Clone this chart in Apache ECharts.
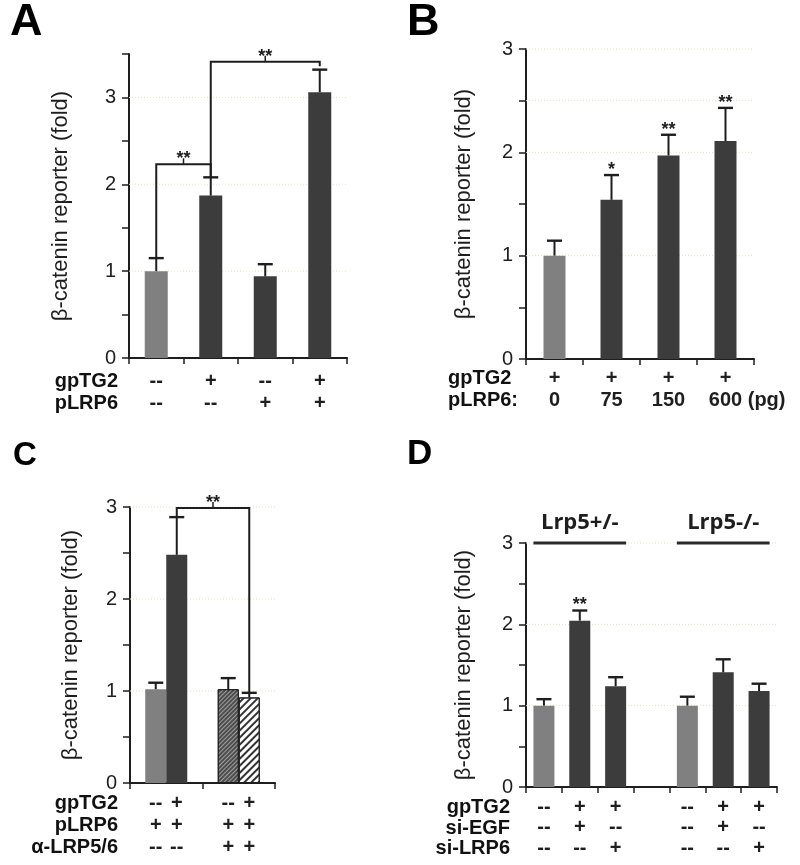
<!DOCTYPE html>
<html><head><meta charset="utf-8">
<script src="https://cdn.jsdelivr.net/npm/echarts@6/dist/echarts.min.js"></script>
<style>html,body{margin:0;padding:0;background:#fff}#c{width:800px;height:865px}</style>
</head><body><div id="c"></div>
<script>
// ---------- data ----------
// Panel A
const catsA = ['a1','a2','a3','a4'];
const meanA = [1.00, 1.87, 0.94, 3.06];
const errA  = [1.15, 2.08, 1.08, 3.32];
const shadeA = ['light','dark','dark','dark'];
const gpTG2_A = ['--','+','--','+'];
const pLRP6_A = ['--','--','+','+'];
const gridValsA = [1, 2, 3];
// brackets: [catL, slotL, bottomL, catR, slotR, bottomR, top, label]
const bracketsA = [[0,0,1.15, 1,0,2.08, 2.23,'**'], [1,0,2.08, 3,0,3.36, 3.41,'**']];

// Panel B
const catsB = ['b1','b2','b3','b4'];
const meanB = [1.00, 1.54, 1.97, 2.11];
const errB  = [1.145, 1.78, 2.17, 2.43];
const shadeB = ['light','dark','dark','dark'];
const starsB = ['', '*', '**', '**'];
const gpTG2_B = ['+','+','+','+'];
const pLRP6_B = ['0','75','150','600'];
const unitB = ' (pg)';
const gridValsB = [1, 2, 2.5, 3];

// Panel C (two bars per group)
const catsC = ['c1','c2'];
const meanC1 = [1.02, 1.02];
const errC1  = [1.09, 1.14];
const meanC2 = [2.48, 0.93];
const errC2  = [2.89, 0.98];
const gpTG2_C = [['--','+'],['--','+']];
const pLRP6_C = [['+','+'],['+','+']];
const aLRP_C  = [['--','--'],['+','+']];
const gridValsC = [1, 2, 3];
const bracketsC = [[0,1,2.89, 1,1,0.98, 2.99,'**']];

// Panel D
const catsD = ['d1','d2','d3','gap','d5','d6','d7'];
const meanD = [1.00, 2.045, 1.24, null, 1.00, 1.41, 1.18];
const errD  = [1.08, 2.17, 1.35, null, 1.11, 1.57, 1.27];
const shadeD = ['light','dark','dark',null,'light','dark','dark'];
const starsD = ['', '**', '', '', '', '', ''];
const gpTG2_D = ['--','+','+','','--','+','+'];
const siEGF_D = ['--','+','--','','--','+','--'];
const siLRP6_D = ['--','--','+','','--','--','+'];
const gridValsD = [1, 2, 3];
// groups: [catFrom, catTo, level, label]
const groupsD = [[0, 2, 3, 'Lrp5+/-'], [4, 6, 3, 'Lrp5-/-']];

// ---------- styles ----------
const LIGHT = '#808080', DARK = '#3c3c3c', INK = '#1e1e1e';
const FONT = '"Liberation Sans", Arial, Helvetica, sans-serif';
const colorOf = s => s === 'light' ? LIGHT : DARK;
const YNAME = 'β-catenin reporter (fold)';

const grids = [
  {left:129, top:54, width:218, height:304},
  {left:526, top:49, width:228, height:310},
  {left:130, top:507, width:145, height:276},
  {left:526, top:543, width:251, height:244}
];
const barW = [23, 22, 21, 21];

function yAxisCfg(gi, max, gap){
  return {gridIndex:gi, type:'value', min:0, max:max, interval:0.5,
    name:YNAME, nameLocation:'middle', nameGap:gap,
    nameTextStyle:{fontSize:22, color:INK, fontFamily:FONT},
    axisLine:{show:true, lineStyle:{color:INK, width:2}},
    axisTick:{show:true, length:7, lineStyle:{color:INK, width:1.5}},
    axisLabel:{fontSize:20, color:INK, fontFamily:FONT, margin:13,
      formatter: v => Number.isInteger(v) ? String(v) : ''},
    splitLine:{show:false}};
}
function xAxisCfg(gi, cats, fmt, lh, margin, rich){
  return {gridIndex:gi, type:'category', data:cats,
    axisLine:{show:true, lineStyle:{color:INK, width:2}},
    axisTick:{show:true, length:6, lineStyle:{color:INK, width:1.5}},
    axisLabel:{interval:0, formatter:fmt, fontSize:20, fontWeight:'bold', color:INK,
      fontFamily:FONT, lineHeight:lh, margin:margin, rich:rich || {}}};
}

// ---------- renderers ----------
function gridLineRender(params, api){
  const cs = params.coordSys;
  const y = api.coord([0, api.value(1)])[1];
  return {type:'line', shape:{x1:cs.x, y1:y, x2:cs.x+cs.width, y2:y},
    style:{stroke:'#e4e2c0', lineWidth:1, lineDash:[1,2]}};
}
function errRender(half){
  return function(params, api){
    const cat = api.value(0), m = api.value(1), e = api.value(2), slot = api.value(3);
    const p0 = api.coord([cat, m]), p1 = api.coord([cat, e]);
    const x = p0[0] + slot*half;
    return {type:'group', children:[
      {type:'line', shape:{x1:x, y1:p0[1], x2:x, y2:p1[1]}, style:{stroke:INK, lineWidth:2}},
      {type:'line', shape:{x1:x-7.5, y1:p1[1], x2:x+7.5, y2:p1[1]}, style:{stroke:INK, lineWidth:2.4}}
    ]};
  };
}
function bracketRender(list, half){
  return function(params, api){
    const b = list[params.dataIndex];
    const L = api.coord([b[0], b[2]]), Lt = api.coord([b[0], b[6]]);
    const R = api.coord([b[3], b[5]]), Rt = api.coord([b[3], b[6]]);
    const xL = L[0] + b[1]*half, xR = R[0] + b[4]*half, yT = Lt[1];
    const mid = (xL + xR)/2;
    return {type:'group', children:[
      {type:'polyline', shape:{points:[[xL,L[1]],[xL,yT],[xR,yT],[xR,R[1]]]},
        style:{stroke:INK, lineWidth:2, fill:null}},
      {type:'line', shape:{x1:mid, y1:yT, x2:mid, y2:yT-6}, style:{stroke:INK, lineWidth:1.5}},
      {type:'text', x:mid, y:yT+4, style:{text:b[7], fontSize:18, fontWeight:'bold',
        fontFamily:FONT, fill:INK, align:'center', verticalAlign:'bottom'}}
    ]};
  };
}
function starRender(labels){
  return function(params, api){
    const p = api.coord([api.value(0), api.value(1)]);
    return {type:'text', x:p[0], y:p[1]+4, style:{text:labels[params.dataIndex], fontSize:18,
      fontWeight:'bold', fontFamily:FONT, fill:INK, align:'center', verticalAlign:'bottom'}};
  };
}
function groupRender(list, half){
  return function(params, api){
    const g = list[params.dataIndex];
    const a = api.coord([g[0], g[2]]), b = api.coord([g[1], g[2]]);
    const x1 = a[0]-half, x2 = b[0]+half;
    return {type:'group', children:[
      {type:'line', shape:{x1:x1, y1:a[1], x2:x2, y2:a[1]}, style:{stroke:'#2a2a2a', lineWidth:3}},
      {type:'text', x:(x1+x2)/2, y:a[1]-20, style:{text:g[3], fontSize:22, fontWeight:'bold',
        fontFamily:'"Open Sans", "Noto Sans", sans-serif', fill:INK, align:'center', verticalAlign:'middle'}}
    ]};
  };
}

// ---------- series ----------
const series = [];
function addGridLines(idx, vals){
  series.push({type:'custom', xAxisIndex:idx, yAxisIndex:idx, z:1, silent:true,
    renderItem:gridLineRender, encode:{x:0, y:1}, data:vals.map(v => [0, v])});
}
function addBars(idx, means, shades){
  series.push({type:'bar', xAxisIndex:idx, yAxisIndex:idx, z:2, barWidth:barW[idx], silent:true,
    data: means.map((v,i) => v == null ? null : ({value:v, itemStyle:{color:colorOf(shades[i])}}))});
}
function addErr(idx, means, errs, slot, half){
  const d = [];
  means.forEach((m,i) => { if (m != null) d.push([i, m, errs[i], slot]); });
  series.push({type:'custom', xAxisIndex:idx, yAxisIndex:idx, z:3, silent:true,
    renderItem:errRender(half), encode:{x:0, y:[1,2]}, data:d});
}

// A
addGridLines(0, gridValsA);
addBars(0, meanA, shadeA);
addErr(0, meanA, errA, 0, 0);
series.push({type:'custom', xAxisIndex:0, yAxisIndex:0, z:4, silent:true,
  renderItem:bracketRender(bracketsA, 0), encode:{x:0, y:1},
  data:bracketsA.map(b => [b[0], b[6]])});
// B
addGridLines(1, gridValsB);
addBars(1, meanB, shadeB);
addErr(1, meanB, errB, 0, 0);
series.push({type:'custom', xAxisIndex:1, yAxisIndex:1, z:4, silent:true,
  renderItem:starRender(starsB), encode:{x:0, y:1}, data:errB.map((e,i) => [i, e])});
// C
addGridLines(2, gridValsC);
const hatchDense = {symbol:'rect', symbolSize:1, dashArrayX:[1,0], dashArrayY:[1,2],
  rotation:-Math.PI/4, color:'rgba(255,255,255,0.45)'};
const hatchOpen = {symbol:'rect', symbolSize:1, dashArrayX:[1,0], dashArrayY:[2,3],
  rotation:-Math.PI/4, color:'#333333'};
series.push({type:'bar', xAxisIndex:2, yAxisIndex:2, z:2, barWidth:21, barGap:'0%', silent:true,
  data:[{value:meanC1[0], itemStyle:{color:LIGHT}},
        {value:meanC1[1], itemStyle:{color:'#4d4d4d', borderColor:INK, borderWidth:1, decal:hatchDense}}]});
series.push({type:'bar', xAxisIndex:2, yAxisIndex:2, z:2, barWidth:21, barGap:'0%', silent:true,
  data:[{value:meanC2[0], itemStyle:{color:DARK}},
        {value:meanC2[1], itemStyle:{color:'#ffffff', borderColor:INK, borderWidth:1, decal:hatchOpen}}]});
addErr(2, meanC1, errC1, -1, 10.5);
addErr(2, meanC2, errC2, 1, 10.5);
series.push({type:'custom', xAxisIndex:2, yAxisIndex:2, z:4, silent:true,
  renderItem:bracketRender(bracketsC, 10.5), encode:{x:0, y:1},
  data:bracketsC.map(b => [b[0], b[6]])});
// D
addGridLines(3, gridValsD);
addBars(3, meanD, shadeD);
addErr(3, meanD, errD, 0, 0);
series.push({type:'custom', xAxisIndex:3, yAxisIndex:3, z:4, silent:true,
  renderItem:starRender(starsD.filter((s,i) => meanD[i] != null)), encode:{x:0, y:1},
  data:errD.map((e,i) => e == null ? null : [i, e]).filter(x => x)});
series.push({type:'custom', xAxisIndex:3, yAxisIndex:3, z:4, silent:true,
  renderItem:groupRender(groupsD, 10.5), encode:{x:0, y:1},
  data:groupsD.map(g => [g[0], g[2]])});

// ---------- axes ----------
const richC = {c:{width:21, align:'center', fontSize:20, fontWeight:'bold', color:INK, fontFamily:FONT, lineHeight:22}};
const richB = {h:{color:'rgba(0,0,0,0)', fontSize:20, fontWeight:'bold', fontFamily:FONT, lineHeight:22},
               v:{color:INK, fontSize:20, fontWeight:'bold', fontFamily:FONT, lineHeight:22}};
const xAxes = [
  xAxisCfg(0, catsA, (v,i) => gpTG2_A[i] + '\n' + pLRP6_A[i], 21.5, 13),
  xAxisCfg(1, catsB, (v,i) => gpTG2_B[i] + '\n' +
     (i === pLRP6_B.length-1 ? '{h|' + unitB + '}' + pLRP6_B[i] + '{v|' + unitB + '}' : pLRP6_B[i]), 22, 8, richB),
  xAxisCfg(2, catsC, (v,i) => [gpTG2_C, pLRP6_C, aLRP_C].map(r => '{c|' + r[i][0] + '}{c|' + r[i][1] + '}').join('\n'), 22, 9, richC),
  xAxisCfg(3, catsD, (v,i) => gpTG2_D[i] + '\n' + siEGF_D[i] + '\n' + siLRP6_D[i], 20.5, 10)
];
const yAxes = [yAxisCfg(0, 3.5, 57), yAxisCfg(1, 3, 51), yAxisCfg(2, 3, 48), yAxisCfg(3, 3, 51)];

// ---------- texts ----------
function txt(x, y, s, size, align, weight){
  return {type:'text', x:x, y:y, silent:true, style:{text:s, fontSize:size, fontWeight:weight || 'bold',
    fontFamily:FONT, fill:'#111', align:align, verticalAlign:'middle'}};
}
const graphic = [
  {type:'text', x:10, y:0, style:{text:'A', fontSize:45, fontWeight:'bold', fontFamily:FONT, fill:'#000', align:'left', verticalAlign:'top'}},
  {type:'text', x:407, y:0, style:{text:'B', fontSize:45, fontWeight:'bold', fontFamily:FONT, fill:'#000', align:'left', verticalAlign:'top'}},
  {type:'text', x:13, y:439, style:{text:'C', fontSize:33, fontWeight:'bold', fontFamily:FONT, fill:'#000', align:'left', verticalAlign:'top'}},
  {type:'text', x:407, y:437, style:{text:'D', fontSize:35, fontWeight:'bold', fontFamily:FONT, fill:'#000', align:'left', verticalAlign:'top'}},
  txt(118, 381.5, 'gpTG2', 20, 'right'),
  txt(118, 403, 'pLRP6', 20, 'right'),
  txt(448, 378, 'gpTG2', 20, 'left'),
  txt(448, 400, 'pLRP6:', 20, 'left'),
  txt(118, 803, 'gpTG2', 20, 'right'),
  txt(118, 825, 'pLRP6', 20, 'right'),
  txt(118, 847, 'α-LRP5/6', 20, 'right'),
  txt(510, 807, 'gpTG2', 20, 'right'),
  txt(510, 828, 'si-EGF', 20, 'right'),
  txt(510, 848, 'si-LRP6', 20, 'right')
];

const chart = echarts.init(document.getElementById('c'), null, {renderer:'canvas'});
chart.setOption({
  animation:false,
  backgroundColor:'#ffffff',
  grid:grids,
  xAxis:xAxes,
  yAxis:yAxes,
  series:series,
  graphic:graphic
});
</script>
</body></html>
